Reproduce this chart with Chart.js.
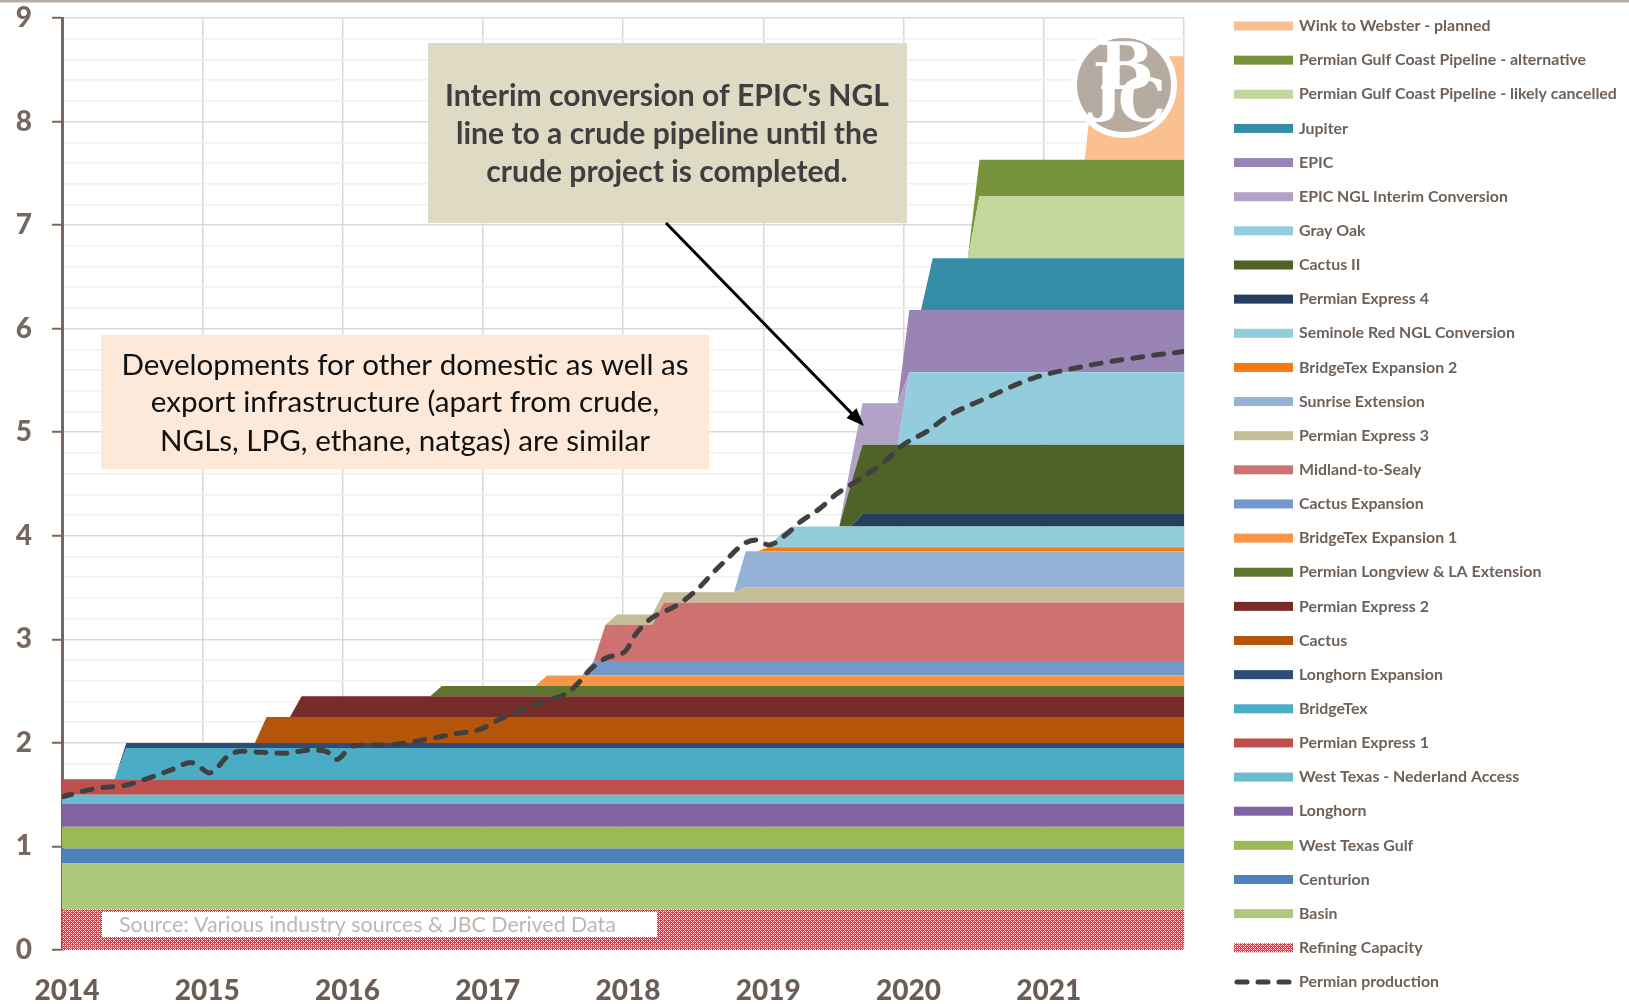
<!DOCTYPE html>
<html>
<head>
<meta charset="utf-8">
<title>Permian takeaway capacity vs production</title>
<script src="https://cdn.jsdelivr.net/npm/chart.js@4.4.1/dist/chart.umd.min.js"></script>
<style>
    html, body { margin: 0; padding: 0; background: #fff; }
    #wrap { width: 1629px; height: 1004px; }
</style>
</head>
<body>
<div id="wrap"><canvas id="capacityChart" width="1629" height="1004"></canvas></div>
<script>
// Capacity layers, bottom of the stack first (legend shows them top first)
const seriesNames = [
    'Refining Capacity', 'Basin', 'Centurion', 'West Texas Gulf', 'Longhorn',
    'West Texas - Nederland Access', 'Permian Express 1', 'BridgeTex', 'Longhorn Expansion',
    'Cactus', 'Permian Express 2', 'Permian Longview & LA Extension', 'BridgeTex Expansion 1',
    'Cactus Expansion', 'Midland-to-Sealy', 'Permian Express 3', 'Sunrise Extension',
    'BridgeTex Expansion 2', 'Seminole Red NGL Conversion', 'Permian Express 4', 'Cactus II',
    'Gray Oak', 'EPIC NGL Interim Conversion', 'EPIC', 'Jupiter',
    'Permian Gulf Coast Pipeline - likely cancelled', 'Permian Gulf Coast Pipeline - alternative',
    'Wink to Webster - planned'
];

const seriesColors = [
    'pattern', '#adc97b', '#4f81bd', '#9bbb59', '#8064a2',
    '#6cbccf', '#c0504d', '#4bacc6', '#2c4d75',
    '#b45509', '#772c2a', '#607530', '#f79646',
    '#719acb', '#cd7270', '#c4bd97', '#95b3d7',
    '#f57a10', '#92cddc', '#243f60', '#4f6228',
    '#93cddd', '#b3a2c7', '#9a84b5', '#358ca7',
    '#c4d79b', '#77933c', '#fac090'
];

// [first month at this level, capacity MMb/d]
const seriesSteps = [
    [['2014-01', 0.39]],
    [['2014-01', 0.45]],
    [['2014-01', 0.14]],
    [['2014-01', 0.21]],
    [['2014-01', 0.22]],
    [['2014-01', 0.09]],
    [['2014-01', 0.15]],
    [['2014-06', 0.30]],
    [['2014-06', 0.05]],
    [['2015-06', 0.25]],
    [['2015-09', 0.20]],
    [['2016-09', 0.10]],
    [['2017-06', 0.10]],
    [['2017-10', 0.14]],
    [['2017-11', 0.35], ['2018-04', 0.565]],
    [['2017-12', 0.10], ['2018-11', 0.145]],
    [['2018-11', 0.35]],
    [['2019-01', 0.04]],
    [['2019-02', 0.13], ['2019-03', 0.20]],
    [['2019-09', 0.12]],
    [['2019-08', 0.41], ['2019-09', 0.67]],
    [['2020-01', 0.70]],
    [['2019-08', 0.20], ['2019-09', 0.40], ['2020-01', 0]],
    [['2020-01', 0.60]],
    [['2020-03', 0.50]],
    [['2020-07', 0.60]],
    [['2020-07', 0.35]],
    [['2021-05', 1.00]]
];

// Permian production, MMb/d
const prodX = [2014.0, 2014.24, 2014.45, 2014.64, 2014.78, 2014.92, 2014.98, 2015.05, 2015.19, 2015.28,
    2015.42, 2015.59, 2015.76, 2015.88, 2015.96, 2016.07, 2016.27, 2016.41, 2016.62, 2016.81,
    2016.98, 2017.11, 2017.26, 2017.46, 2017.60, 2017.69, 2017.76, 2017.88, 2018.02, 2018.08,
    2018.18, 2018.26, 2018.33, 2018.43, 2018.55, 2018.64, 2018.73, 2018.87, 2018.96, 2019.04,
    2019.16, 2019.27, 2019.41, 2019.52, 2019.69, 2019.86, 2020.0, 2020.17, 2020.31, 2020.59,
    2020.92, 2021.30, 2021.66, 2022.0];
const prodY = [1.48, 1.56, 1.59, 1.67, 1.74, 1.81, 1.77, 1.71, 1.88, 1.92,
    1.91, 1.90, 1.93, 1.92, 1.84, 1.97, 1.98, 1.99, 2.04, 2.09,
    2.13, 2.22, 2.31, 2.41, 2.48, 2.59, 2.70, 2.82, 2.89, 3.03,
    3.18, 3.25, 3.29, 3.37, 3.51, 3.64, 3.76, 3.93, 3.96, 3.91,
    4.01, 4.14, 4.27, 4.40, 4.55, 4.71, 4.88, 5.01, 5.15, 5.33,
    5.52, 5.64, 5.72, 5.78];

const yearTicks = ['2014', '2015', '2016', '2017', '2018', '2019', '2020', '2021'];

const FONT = 'Lato, "Open Sans", sans-serif';
const AXIS_COLOR = '#76685e';

// monthly points sit mid-month, plus both ends of the axis
const gridX = [2014];
for (let m = 0; m < 96; m++) gridX.push(2014 + (m + 0.5) / 12);
gridX.push(2022);

function monthOf(s) {
    const [y, mo] = s.split('-').map(Number);
    return (y - 2014) * 12 + mo - 1;
}

function levelAt(steps, m) {
    let v = 0;
    steps.forEach(([start, val]) => {
        if (monthOf(start) <= m) v = val;
    });
    return v;
}

function makeRefiningPattern() {
    const c = document.createElement('canvas');
    c.width = 4;
    c.height = 4;
    const g = c.getContext('2d');
    g.fillStyle = '#dc3843';
    g.fillRect(0, 0, 4, 4);
    g.fillStyle = '#ffffff';
    g.fillRect(1, 1, 1, 1);
    g.fillRect(3, 3, 1, 1);
    g.fillRect(3, 1, 1, 1);
    g.fillRect(1, 3, 1, 1);
    g.fillStyle = '#f0b0b3';
    g.fillRect(0, 2, 1, 1);
    g.fillRect(2, 0, 1, 1);
    return g.createPattern(c, 'repeat');
}

const refiningPattern = makeRefiningPattern();

const areaDatasets = seriesNames.map((name, i) => ({
    type: 'line',
    label: name,
    data: gridX.map((x, k) => {
        const m = k === 0 ? 0 : Math.min(k - 1, 95);
        return { x: x, y: levelAt(seriesSteps[i], m) };
    }),
    backgroundColor: seriesColors[i] === 'pattern' ? refiningPattern : seriesColors[i],
    borderColor: 'transparent',
    borderWidth: 0,
    pointRadius: 0,
    tension: 0,
    fill: i === 0 ? 'origin' : '-1',
    stack: 'capacity',
    order: 1
}));

const productionDataset = {
    type: 'line',
    label: 'Permian production',
    data: prodX.map((x, i) => ({ x: x, y: prodY[i] })),
    borderColor: '#404040',
    borderWidth: 5,
    borderDash: [10, 11],
    borderCapStyle: 'round',
    pointRadius: 0,
    fill: false,
    cubicInterpolationMode: 'monotone',
    stack: 'production',
    order: -1
};

function fitSize(ctx, text, width, weight) {
    ctx.font = `${weight} 100px ${FONT}`;
    return 100 * width / ctx.measureText(text).width;
}

function drawTextBox(ctx, box, lines, lineY, opts) {
    ctx.fillStyle = box.fill;
    ctx.fillRect(box.x, box.y, box.w, box.h);
    const size = fitSize(ctx, lines[0], opts.firstWidth, opts.weight);
    ctx.font = `${opts.weight} ${size}px ${FONT}`;
    ctx.fillStyle = opts.color;
    ctx.textAlign = 'center';
    ctx.textBaseline = 'middle';
    lines.forEach((line, i) => ctx.fillText(line, opts.cx, lineY[i]));
}

function drawLegend(chart) {
    const ctx = chart.ctx;
    const items = chart.data.datasets.filter(d => d.stack === 'capacity').slice().reverse();
    items.push(chart.data.datasets.find(d => d.stack === 'production'));

    const size = fitSize(ctx, 'Permian Gulf Coast Pipeline - likely cancelled', 318, 'bold');
    items.forEach((ds, i) => {
        const y = 26 + i * 34.14;
        if (ds.stack === 'production') {
            ctx.save();
            ctx.strokeStyle = ds.borderColor;
            ctx.lineWidth = 5;
            ctx.lineCap = 'round';
            ctx.setLineDash([10, 11]);
            ctx.beginPath();
            ctx.moveTo(1237, y);
            ctx.lineTo(1293, y);
            ctx.stroke();
            ctx.restore();
        } else {
            ctx.fillStyle = ds.backgroundColor;
            ctx.fillRect(1234, y - 4.5, 59, 9);
        }
        ctx.font = `bold ${size}px ${FONT}`;
        ctx.fillStyle = '#6e6158';
        ctx.textAlign = 'left';
        ctx.textBaseline = 'middle';
        ctx.fillText(ds.label, 1299, y);
    });
}

function drawLogo(ctx) {
    const cx = 1124, cy = 85, r = 50;
    ctx.beginPath();
    ctx.arc(cx, cy, r, 0, Math.PI * 2);
    ctx.fillStyle = '#b5aba1';
    ctx.fill();
    ctx.lineWidth = 6;
    ctx.strokeStyle = '#ffffff';
    ctx.stroke();

    ctx.fillStyle = '#ffffff';
    ctx.textAlign = 'center';
    ctx.textBaseline = 'alphabetic';
    ctx.font = 'bold 66px "DejaVu Serif", serif';
    ctx.fillText('B', cx + 2, cy + 4);
    ctx.font = 'bold 64px "DejaVu Serif", serif';
    ctx.fillText('J', cx - 16, cy + 24);
    ctx.font = 'bold 60px "DejaVu Serif", serif';
    ctx.fillText('C', cx + 18, cy + 36);
}

function drawArrow(ctx, x1, y1, x2, y2) {
    const ang = Math.atan2(y2 - y1, x2 - x1);
    const head = 18;
    ctx.strokeStyle = '#000';
    ctx.fillStyle = '#000';
    ctx.lineWidth = 3;
    ctx.beginPath();
    ctx.moveTo(x1, y1);
    ctx.lineTo(x2 - head * 0.8 * Math.cos(ang), y2 - head * 0.8 * Math.sin(ang));
    ctx.stroke();
    ctx.beginPath();
    ctx.moveTo(x2, y2);
    ctx.lineTo(x2 - head * Math.cos(ang) + 7 * Math.sin(ang), y2 - head * Math.sin(ang) - 7 * Math.cos(ang));
    ctx.lineTo(x2 - head * Math.cos(ang) - 7 * Math.sin(ang), y2 - head * Math.sin(ang) + 7 * Math.cos(ang));
    ctx.closePath();
    ctx.fill();
}

const overlay = {
    id: 'overlay',
    afterDraw(chart) {
        const ctx = chart.ctx;
        ctx.save();

        // frame line along the top of the picture
        ctx.fillStyle = '#b8aea4';
        ctx.fillRect(0, 0, chart.width, 2.5);

        drawTextBox(ctx, { x: 101, y: 335, w: 608, h: 134, fill: '#fde9d9' },
            ['Developments for other domestic as well as',
             'export infrastructure (apart from crude,',
             'NGLs, LPG, ethane, natgas) are similar'],
            [365, 402, 441],
            { cx: 405, firstWidth: 567, weight: 'normal', color: '#111111' });

        drawTextBox(ctx, { x: 428, y: 43, w: 479, h: 180, fill: '#dedac4' },
            ["Interim conversion of EPIC's NGL",
             'line to a crude pipeline until the',
             'crude project is completed.'],
            [96, 134, 172],
            { cx: 667, firstWidth: 444, weight: 'bold', color: '#3f3f3f' });

        drawArrow(ctx, 666, 223, 864, 426);

        // source note
        ctx.fillStyle = '#ffffff';
        ctx.fillRect(102, 912, 555, 25);
        const srcText = 'Source: Various industry sources & JBC Derived Data';
        const srcSize = fitSize(ctx, srcText, 497, 'normal');
        ctx.font = `normal ${srcSize}px ${FONT}`;
        ctx.fillStyle = '#c0b6ad';
        ctx.textAlign = 'left';
        ctx.textBaseline = 'middle';
        ctx.fillText(srcText, 119, 925);

        drawLogo(ctx);
        drawLegend(chart);
        ctx.restore();
    }
};

function isWhole(v) {
    return Math.abs(v - Math.round(v)) < 1e-6;
}

const ctx = document.getElementById('capacityChart');
new Chart(ctx, {
    type: 'line',
    data: { datasets: [...areaDatasets, productionDataset] },
    options: {
        responsive: false,
        animation: false,
        devicePixelRatio: 1,
        layout: { padding: { top: 18, right: 445, left: 0, bottom: 0 } },
        plugins: {
            legend: { display: false },
            tooltip: { enabled: false }
        },
        scales: {
            x: {
                type: 'linear',
                min: 2014,
                max: 2022,
                border: { display: false },
                grid: { color: '#d9d9d9', lineWidth: 1.5, drawTicks: false },
                ticks: {
                    stepSize: 1,
                    padding: 24,
                    labelOffset: 5,
                    color: '#6b5d55',
                    font: { family: FONT, size: 28, weight: '900' },
                    callback: (v) => yearTicks[Math.round(v) - 2014] || ''
                },
                afterFit: (scale) => {
                    scale.height = 54;
                    scale.paddingLeft = 0;
                    scale.paddingRight = 0;
                }
            },
            y: {
                stacked: true,
                min: 0,
                max: 9,
                border: { color: AXIS_COLOR, width: 3 },
                grid: {
                    color: (c) => isWhole(c.tick.value) ? '#d9d9d9' : '#f0f0f0',
                    lineWidth: 1.5,
                    tickLength: 10,
                    tickWidth: 2,
                    tickColor: (c) => isWhole(c.tick.value) ? AXIS_COLOR : 'rgba(0,0,0,0)'
                },
                ticks: {
                    stepSize: 0.2,
                    padding: 20,
                    autoSkip: false,
                    color: AXIS_COLOR,
                    font: { family: FONT, size: 28, weight: '900' },
                    callback: (v) => isWhole(v) ? String(Math.round(v)) : ''
                },
                afterFit: (scale) => {
                    scale.width = 62;
                    scale.paddingTop = 0;
                    scale.paddingBottom = 0;
                }
            }
        }
    },
    plugins: [overlay]
});
</script>
</body>
</html>
